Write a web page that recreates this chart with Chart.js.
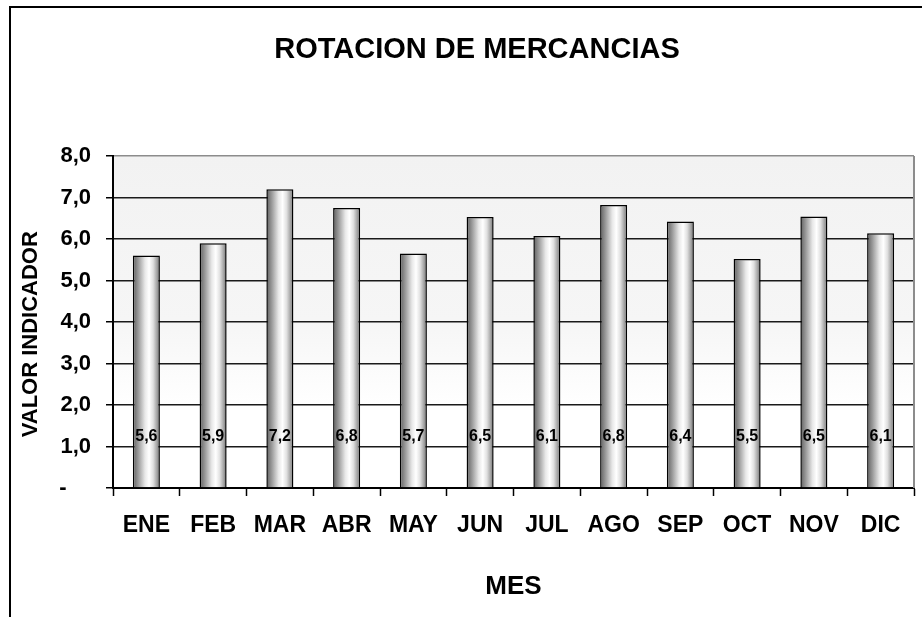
<!DOCTYPE html>
<html>
<head>
<meta charset="utf-8">
<script src="https://cdn.jsdelivr.net/npm/chart.js@4/dist/chart.umd.min.js"></script>
<style>
    html, body { margin: 0; padding: 0; background: #ffffff; }
    canvas { display: block; }
</style>
</head>
<body>
<canvas id="rotationChart" width="922" height="617"></canvas>
<script>
const months = ['ENE', 'FEB', 'MAR', 'ABR', 'MAY', 'JUN', 'JUL', 'AGO', 'SEP', 'OCT', 'NOV', 'DIC'];
const rotation = [5.6, 5.9, 7.2, 6.75, 5.65, 6.53, 6.07, 6.82, 6.42, 5.52, 6.54, 6.14];
const yTicks = [0, 1, 2, 3, 4, 5, 6, 7, 8];

const FONT = '"Liberation Sans", Arial, sans-serif';
const BAR_PCT = 0.405;
const LABEL_LEVEL = 1.23;

function formatValue(v) {
    return v.toFixed(1).replace('.', ',');
}

// cylinder-like shading, built per bar from the x scale
function barFill(context) {
    const chart = context.chart;
    const xs = chart.scales.x;
    if (!xs || !chart.chartArea || context.dataIndex === undefined) return '#cccccc';
    const cx = xs.getPixelForValue(context.dataIndex);
    const half = xs.width / months.length * BAR_PCT / 2;
    const g = chart.ctx.createLinearGradient(cx - half, 0, cx + half, 0);
    g.addColorStop(0, '#5e5e5e');
    g.addColorStop(0.2, '#9a9a9a');
    g.addColorStop(0.45, '#e8e8e8');
    g.addColorStop(0.6, '#ffffff');
    g.addColorStop(0.75, '#e0e0e0');
    g.addColorStop(0.9, '#a0a0a0');
    g.addColorStop(1, '#6a6a6a');
    return g;
}

const framePlugin = {
    id: 'frame',
    beforeDraw(chart) {
        const { ctx, chartArea } = chart;
        ctx.save();
        // plot background, grey at the top fading to white
        const bg = ctx.createLinearGradient(0, chartArea.top, 0, chartArea.bottom);
        bg.addColorStop(0, '#f2f2f2');
        bg.addColorStop(0.5, '#f6f6f6');
        bg.addColorStop(0.75, '#ffffff');
        bg.addColorStop(1, '#ffffff');
        ctx.fillStyle = bg;
        ctx.fillRect(chartArea.left, chartArea.top, chartArea.right - chartArea.left, chartArea.bottom - chartArea.top);

        // outer frame (left and top)
        ctx.strokeStyle = '#000000';
        ctx.lineWidth = 2;
        ctx.beginPath();
        ctx.moveTo(10, chart.height);
        ctx.lineTo(10, 7);
        ctx.lineTo(chart.width, 7);
        ctx.stroke();
        ctx.restore();
    },
    beforeDatasetsDraw(chart) {
        const { ctx, chartArea } = chart;
        ctx.save();
        ctx.strokeStyle = '#8c8c8c';
        ctx.lineWidth = 2;
        ctx.beginPath();
        ctx.moveTo(chartArea.right, chartArea.top);
        ctx.lineTo(chartArea.right, chartArea.bottom);
        ctx.stroke();
        ctx.restore();
    },
    afterDatasetsDraw(chart) {
        const { ctx } = chart;
        const meta = chart.getDatasetMeta(0);
        const y = chart.scales.y.getPixelForValue(LABEL_LEVEL);
        ctx.save();
        ctx.fillStyle = '#000000';
        ctx.font = 'bold 16px ' + FONT;
        ctx.textAlign = 'center';
        ctx.textBaseline = 'middle';
        meta.data.forEach((bar, i) => {
            ctx.fillText(formatValue(rotation[i]), bar.x, y);
        });
        ctx.restore();
    }
};

new Chart(document.getElementById('rotationChart'), {
    type: 'bar',
    data: {
        labels: months,
        datasets: [{
            data: rotation,
            backgroundColor: barFill,
            borderColor: '#000000',
            borderWidth: 1.5,
            categoryPercentage: 1,
            barPercentage: BAR_PCT
        }]
    },
    options: {
        responsive: false,
        animation: false,
        layout: {
            padding: { left: 40, right: 8, top: 0, bottom: 0 }
        },
        plugins: {
            legend: { display: false },
            tooltip: { enabled: false },
            title: {
                display: true,
                text: 'ROTACION DE MERCANCIAS',
                color: '#000000',
                font: { family: FONT, size: 29, weight: 'bold' },
                padding: { top: 33, bottom: 88.2 }
            }
        },
        scales: {
            x: {
                afterFit(scale) { scale.height = 129; },
                grid: {
                    offset: true,
                    drawOnChartArea: false,
                    tickLength: 8,
                    tickColor: '#000000',
                    tickWidth: 1.5
                },
                border: { color: '#000000', width: 2 },
                ticks: {
                    color: '#000000',
                    padding: 16,
                    font: { family: FONT, size: 23, weight: 'bold' }
                },
                title: {
                    display: true,
                    text: 'MES',
                    color: '#000000',
                    font: { family: FONT, size: 26, weight: 'bold' },
                    padding: { top: 0, bottom: 15 }
                }
            },
            y: {
                min: 0,
                max: 8,
                afterFit(scale) { scale.width = 73; },
                afterBuildTicks(scale) {
                    scale.ticks = yTicks.map(v => ({ value: v }));
                },
                grid: {
                    color: ctx => (ctx.tick && ctx.tick.value === 8 ? '#8c8c8c' : '#1a1a1a'),
                    lineWidth: 1.5,
                    tickLength: 7,
                    tickColor: '#000000'
                },
                border: { color: '#000000', width: 2 },
                ticks: {
                    color: '#000000',
                    padding: 15,
                    font: { family: FONT, size: 22, weight: 'bold' },
                    callback: v => (v === 0 ? '-    ' : formatValue(v))
                },
                title: {
                    display: true,
                    text: 'VALOR INDICADOR    ',
                    color: '#000000',
                    font: { family: FONT, size: 22, weight: 'bold' },
                    padding: { top: -22, bottom: 0 }
                }
            }
        }
    },
    plugins: [framePlugin]
});
</script>
</body>
</html>
